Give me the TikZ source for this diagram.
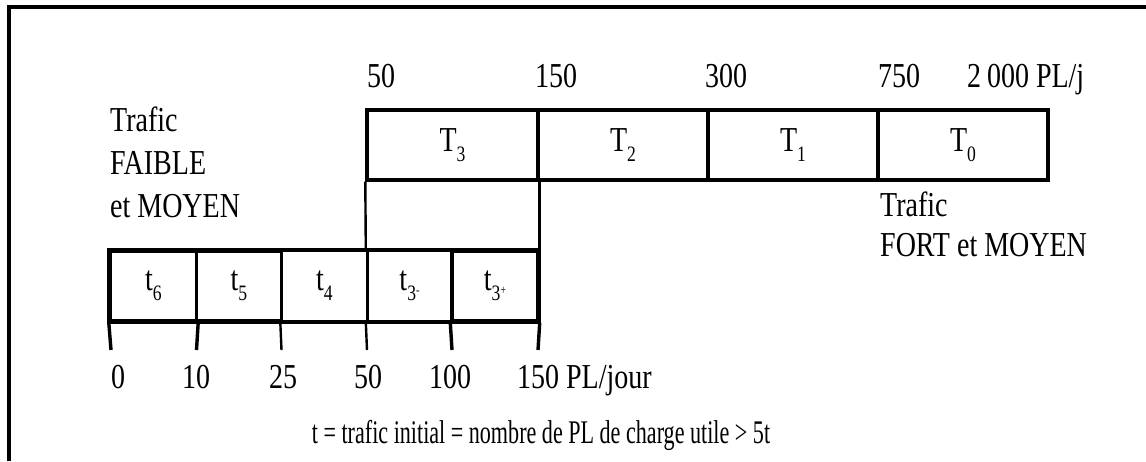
\documentclass[tikz,border=0pt]{standalone}
\usepackage{fontspec}
\setmainfont{Liberation Serif}[FakeStretch=0.8]
\newfontfamily\capfont{Liberation Serif}[FakeStretch=0.67]
\newcommand\lsub[1]{\raisebox{-10pt}{\fontsize{22}{22}\selectfont #1}}
\newcommand\tinysup[1]{\raisebox{6pt}{\fontsize{13}{13}\selectfont #1}}
\begin{document}
\begin{tikzpicture}[x=1pt,y=-1pt,
  cell/.style={draw, line width=3.4pt, inner sep=0pt, minimum height=70pt, font=\fontsize{35}{40}\selectfont},
  lbl/.style={inner sep=0pt, font=\fontsize{35}{43}\selectfont},
  frameline/.style={line width=4pt},
  tickline/.style={line width=3.4pt},
  thinline/.style={line width=2.4pt}]
\useasboundingbox (0,0) rectangle (1146,461);
% frame
\coordinate (f1) at (9,461);
\coordinate (f2) at (9,6.5);
\coordinate (f3) at (1146,6.5);
\draw[frameline] (f1) -- (f2) -- (f3);
% upper row
\node[cell, minimum width=171pt] (T3) at (452.5,145) {T\lsub{3}};
\node[cell, minimum width=170pt] (T2) at (623,145) {T\lsub{2}};
\node[cell, minimum width=170pt] (T1) at (793,145) {T\lsub{1}};
\node[cell, minimum width=170pt] (T0) at (963,145) {T\lsub{0}};
% lower row
\node[cell, minimum width=86pt] (t6) at (153.5,286) {t\lsub{6}};
\node[cell, minimum width=85pt] (t5) at (239,286) {t\lsub{5}};
\node[cell, line width=2.4pt, minimum width=86pt] (t4) at (324.5,286) {t\lsub{4}};
\node[cell, line width=2.4pt, minimum width=85pt] (t3m) at (409.5,286) {t\lsub{3\tinysup{-}}};
\node[cell, minimum width=86pt] (t3p) at (495,286) {t\lsub{3\tinysup{+}}};
% lower row outer border
\draw[line width=3.4pt] (t6.north west) -- (t3p.north east) -- (t3p.south east) -- (t6.south west) -- cycle;
% connectors between rows
\draw[thinline] (T3.south west) -- (t3m.north west);
\draw[tickline] (T3.south east) -- (t3p.north east);
% ticks
\coordinate (k0) at (111,350);
\coordinate (k1) at (196.5,350);
\coordinate (k2) at (281.5,350);
\coordinate (k3) at (367,350);
\coordinate (k4) at (452,350);
\coordinate (k5) at (538,350);
\draw[tickline] (t6.south west) -- (k0);
\draw[tickline] (t6.south east) -- (k1);
\draw[thinline] (t4.south west) -- (k2);
\draw[thinline] (t3m.south west) -- (k3);
\draw[tickline] (t3p.south west) -- (k4);
\draw[tickline] (t3p.south east) -- (k5);
% top scale labels
\node[lbl, anchor=base west] (n50) at (367,87) {50};
\node[lbl, anchor=base west] (n150) at (535,87) {150};
\node[lbl, anchor=base west] (n300) at (705,87) {300};
\node[lbl, anchor=base west] (n750) at (878,87) {750};
\node[lbl, anchor=base west] (n2000) at (967,87) {2\,000 PL/j};
% side labels
\node[lbl, anchor=north west, align=left] (faible) at (110,107) {Trafic\\FAIBLE\\et MOYEN};
\node[lbl, anchor=north west, align=left, font=\fontsize{35}{40}\selectfont] (fort) at (880,192) {Trafic\\FORT et MOYEN};
% bottom scale labels
\node[lbl, anchor=base] (b0) at (118,388) {0};
\node[lbl, anchor=base] (b10) at (196,388) {10};
\node[lbl, anchor=base] (b25) at (283,388) {25};
\node[lbl, anchor=base] (b50) at (368,388) {50};
\node[lbl, anchor=base] (b100) at (450,388) {100};
\node[lbl, anchor=base west] (b150) at (517,388) {150 PL/jour};
% caption
\node[lbl, anchor=base, font=\capfont\fontsize{33}{40}\selectfont] (cap) at (541,443) {t = trafic initial = nombre de PL de charge utile > 5t};
\end{tikzpicture}
\end{document}
